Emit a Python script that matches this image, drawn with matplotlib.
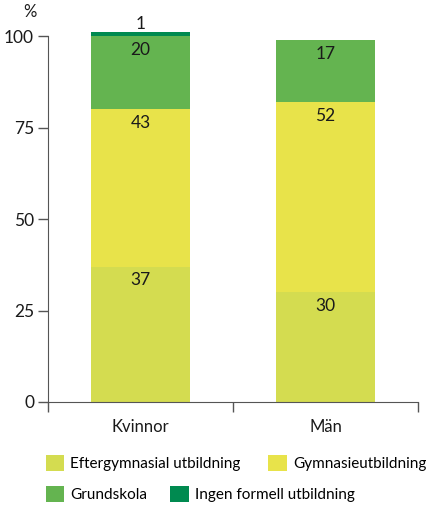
import matplotlib
matplotlib.use("Agg")
import matplotlib.pyplot as plt
from matplotlib.patches import Patch

plt.rcParams['font.family'] = ['Lato', 'DejaVu Sans']

groups = ["Kvinnor", "Män"]
levels = ["Eftergymnasial utbildning", "Gymnasieutbildning", "Grundskola", "Ingen formell utbildning"]
values = [
    [37, 30],   # Eftergymnasial
    [43, 52],   # Gymnasie
    [20, 17],   # Grundskola
    [1, 0],     # Ingen formell
]
colors = ["#d4dc50", "#e8e34a", "#64b450", "#008a50"]
yticks = [0, 25, 50, 75, 100]

fig = plt.figure(figsize=(4.3, 5.05), dpi=100)
ax = fig.add_axes([0.1116, 0.204, 0.8605, 0.739])

x = range(len(groups))
bottom = [0, 0]
for vals, col in zip(values, colors):
    ax.bar(x, vals, bottom=bottom, width=0.54, color=col, linewidth=0)
    for i, (v, b) in enumerate(zip(vals, bottom)):
        if v == 0:
            continue
        # tiny segment: label above the bar
        dy = 6 if v < 3 else -10
        ax.annotate(str(v), (i, b + v), xytext=(0, dy), textcoords="offset points",
                    ha="center", va="center", fontsize=12.5, color="#1a1a1a")
    bottom = [b + v for b, v in zip(bottom, vals)]

ax.set_xlim(-0.5, 1.5)
ax.set_ylim(0, 102)
ax.set_yticks(yticks)
ax.set_yticklabels([str(t) for t in yticks], fontsize=12.5, color="#1a1a1a")
ax.set_xticks([-0.5, 0.5, 1.5])
ax.set_xticklabels([])
ax.set_xticks([0, 1], minor=True)
ax.set_xticklabels(groups, minor=True, fontsize=12, color="#1a1a1a")
ax.tick_params(axis="x", which="minor", length=0, pad=12)
ax.tick_params(axis="x", which="major", length=7, width=1, color="#555555", direction="out")
ax.tick_params(axis="y", length=7, width=1, color="#555555", direction="out", pad=3)
for s in ["top", "right"]:
    ax.spines[s].set_visible(False)
ax.spines["left"].set_bounds(0, 100)
ax.spines["left"].set_color("#555555")
ax.spines["bottom"].set_color("#555555")
ax.text(-0.03, 1.045, "%", transform=ax.transAxes, ha="right", va="center",
        fontsize=12, color="#1a1a1a")

h = [Patch(facecolor=c, edgecolor="none") for c in colors]
common = dict(loc="center left", ncol=2, frameon=False, fontsize=11,
              handlelength=1.2, handleheight=1.2, handletextpad=0.4,
              borderpad=0, borderaxespad=0)
fig.legend(h[:2], levels[:2], bbox_to_anchor=(0.107, 0.083), columnspacing=1.8, **common)
fig.legend(h[2:], levels[2:], bbox_to_anchor=(0.107, 0.022), columnspacing=1.5, **common)

fig.savefig("out.png", dpi=100)
